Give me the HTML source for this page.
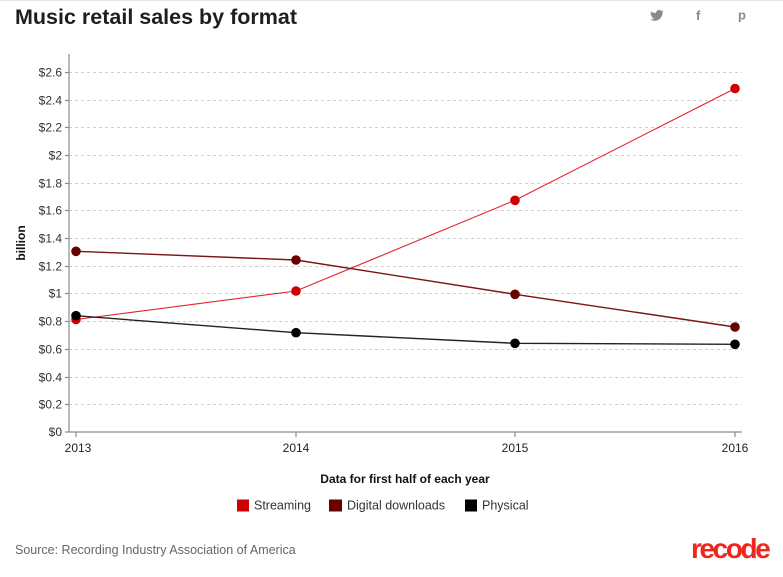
<!DOCTYPE html>
<html><head><meta charset="utf-8"><style>
html,body{margin:0;padding:0;background:#fff;}
body{width:783px;height:577px;overflow:hidden;position:relative;font-family:"Liberation Sans",Arial,sans-serif;}
svg{position:absolute;left:0;top:0;}
</style></head><body>
<svg width="783" height="577" viewBox="0 0 783 577" xmlns="http://www.w3.org/2000/svg" font-family="Liberation Sans, Arial, sans-serif">
<line x1="0" y1="0.5" x2="783" y2="0.5" stroke="#e6e6e6" stroke-width="1"/>
<text x="15" y="24" font-size="21.5" font-weight="bold" fill="#1e1e1e">Music retail sales by format</text>
<!-- social icons -->
<g fill="#8a8a8a">
<path d="M651,11.5 c1.5,1 3,1.5 5,1.5 c0.2,-2 1.6,-3 3.2,-3 c1,0 1.6,0.4 2.2,1 l1.6,-0.6 l-0.8,1.4 l1.4,-0.3 l-1.1,1.2 c0,4 -3,8 -8,8 c-1.6,0 -3,-0.4 -4.3,-1.2 c1.5,0.1 3,-0.3 4,-1.1 c-1.3,0 -2.3,-0.8 -2.7,-2 l1.2,0 c-1.3,-0.4 -2.2,-1.4 -2.2,-2.8 l1.2,0.4 c-1.1,-0.8 -1.3,-2.2 -0.7,-2.5z"/>
<text x="696" y="20" font-size="13" font-weight="bold">f</text>
<text x="738" y="19.5" font-size="13" font-weight="bold">p</text>
</g>
<!-- gridlines -->
<g stroke="#cfcfcf" stroke-width="1" stroke-dasharray="3,3">
<line x1="69" y1="72.5" x2="742" y2="72.5"/>
<line x1="69" y1="100.5" x2="742" y2="100.5"/>
<line x1="69" y1="127.5" x2="742" y2="127.5"/>
<line x1="69" y1="155.5" x2="742" y2="155.5"/>
<line x1="69" y1="183.5" x2="742" y2="183.5"/>
<line x1="69" y1="210.5" x2="742" y2="210.5"/>
<line x1="69" y1="238.5" x2="742" y2="238.5"/>
<line x1="69" y1="266.5" x2="742" y2="266.5"/>
<line x1="69" y1="293.5" x2="742" y2="293.5"/>
<line x1="69" y1="321.5" x2="742" y2="321.5"/>
<line x1="69" y1="349.5" x2="742" y2="349.5"/>
<line x1="69" y1="377.5" x2="742" y2="377.5"/>
<line x1="69" y1="404.5" x2="742" y2="404.5"/>
</g>
<!-- axes -->
<g stroke="#8c8c8c" stroke-width="1.2">
<line x1="69" y1="54" x2="69" y2="432"/>
<line x1="69" y1="432" x2="742" y2="432"/>
<line x1="65" y1="72.5" x2="69" y2="72.5"/>
<line x1="65" y1="100.5" x2="69" y2="100.5"/>
<line x1="65" y1="127.5" x2="69" y2="127.5"/>
<line x1="65" y1="155.5" x2="69" y2="155.5"/>
<line x1="65" y1="183.5" x2="69" y2="183.5"/>
<line x1="65" y1="210.5" x2="69" y2="210.5"/>
<line x1="65" y1="238.5" x2="69" y2="238.5"/>
<line x1="65" y1="266.5" x2="69" y2="266.5"/>
<line x1="65" y1="293.5" x2="69" y2="293.5"/>
<line x1="65" y1="321.5" x2="69" y2="321.5"/>
<line x1="65" y1="349.5" x2="69" y2="349.5"/>
<line x1="65" y1="377.5" x2="69" y2="377.5"/>
<line x1="65" y1="404.5" x2="69" y2="404.5"/>
<line x1="65" y1="432" x2="69" y2="432"/>
<line x1="76" y1="432" x2="76" y2="437"/>
<line x1="296" y1="432" x2="296" y2="437"/>
<line x1="515" y1="432" x2="515" y2="437"/>
<line x1="735" y1="432" x2="735" y2="437"/>
</g>
<g font-size="12" fill="#333" text-anchor="end">
<text x="62" y="76.5">$2.6</text>
<text x="62" y="104.5">$2.4</text>
<text x="62" y="131.5">$2.2</text>
<text x="62" y="159.5">$2</text>
<text x="62" y="187.5">$1.8</text>
<text x="62" y="214.5">$1.6</text>
<text x="62" y="242.5">$1.4</text>
<text x="62" y="270.5">$1.2</text>
<text x="62" y="297.5">$1</text>
<text x="62" y="325.5">$0.8</text>
<text x="62" y="353.5">$0.6</text>
<text x="62" y="381.5">$0.4</text>
<text x="62" y="408.5">$0.2</text>
<text x="62" y="436">$0</text>
</g>
<g font-size="12" fill="#222" text-anchor="middle">
<text x="78" y="452">2013</text>
<text x="296" y="452">2014</text>
<text x="515" y="452">2015</text>
<text x="735" y="452">2016</text>
</g>
<text transform="translate(25,243) rotate(-90)" font-size="12" font-weight="bold" fill="#111" text-anchor="middle">billion</text>
<text x="405" y="483" font-size="12" font-weight="bold" fill="#111" text-anchor="middle">Data for first half of each year</text>
<!-- series -->
<polyline points="76,319.5 296,291 515,200.3 735,88.5" fill="none" stroke="#e3232a" stroke-width="1.1"/>
<polyline points="76,251.3 296,260 515,294.3 735,327" fill="none" stroke="#7a1515" stroke-width="1.4"/>
<polyline points="76,315.7 296,332.7 515,343.3 735,344.3" fill="none" stroke="#222" stroke-width="1.4"/>
<g fill="#d10000">
<circle cx="76" cy="319.5" r="4.8"/><circle cx="296" cy="291" r="4.8"/><circle cx="515" cy="200.3" r="4.8"/><circle cx="735" cy="88.5" r="4.8"/>
</g>
<g fill="#680000">
<circle cx="76" cy="251.3" r="4.8"/><circle cx="296" cy="260" r="4.8"/><circle cx="515" cy="294.3" r="4.8"/><circle cx="735" cy="327" r="4.8"/>
</g>
<g fill="#000">
<circle cx="76" cy="315.7" r="4.8"/><circle cx="296" cy="332.7" r="4.8"/><circle cx="515" cy="343.3" r="4.8"/><circle cx="735" cy="344.3" r="4.8"/>
</g>
<!-- legend -->
<rect x="237" y="499.5" width="12" height="12" fill="#d10000"/>
<text x="254" y="509.5" font-size="12.5" fill="#333">Streaming</text>
<rect x="329" y="499.5" width="13" height="12" fill="#680000"/>
<text x="347" y="509.5" font-size="12.5" fill="#333">Digital downloads</text>
<rect x="465" y="499.5" width="12" height="12" fill="#000"/>
<text x="482" y="509.5" font-size="12.5" fill="#333">Physical</text>
<text x="15" y="554" font-size="12.5" fill="#666">Source: Recording Industry Association of America</text>
<text x="691" y="558" font-size="28" font-weight="bold" fill="#f0261c" letter-spacing="-2.4">recode</text>
</svg>
</body></html>
